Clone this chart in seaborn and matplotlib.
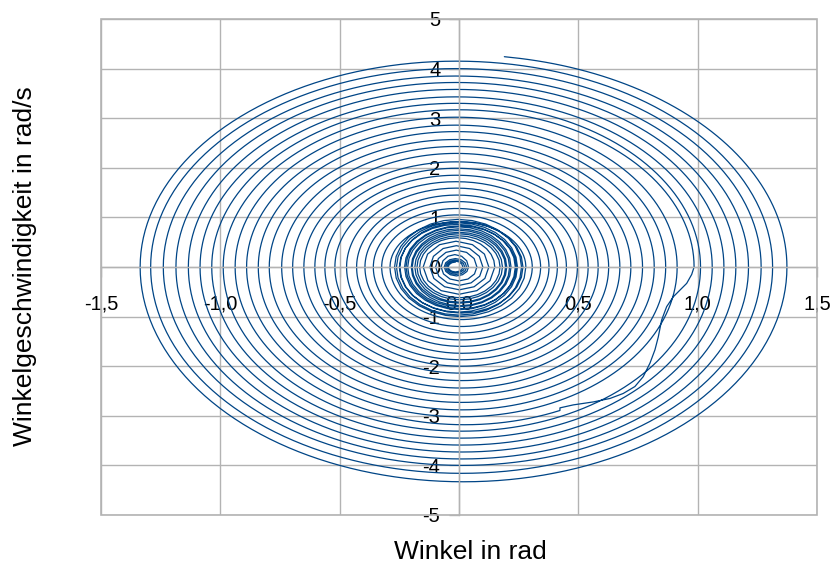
import numpy as np
import matplotlib
matplotlib.use("Agg")
import matplotlib.pyplot as plt
import seaborn as sns
import pandas as pd
from matplotlib.patches import Rectangle

# ---------------- data ----------------
# start of the recording
start_winkel = 0.19
start_omega = 4.24

# turning points of the angle (rad): maxima on the right, minima on the left (one per swing)
winkel_max = [1.374, 1.314, 1.266, 1.213, 1.160, 1.110, 1.061, 1.012, 0.985, 0.914,
              0.866, 0.818, 0.769, 0.720, 0.674, 0.627, 0.583, 0.541, 0.496, 0.450,
              0.412, 0.377, 0.342, 0.307,
              0.280, 0.262, 0.268, 0.245, 0.236, 0.240, 0.218, 0.212, 0.200, 0.195,
              0.182, 0.172,
              0.150, 0.125, 0.100, 0.075,
              0.040, 0.032, 0.024, 0.016]
winkel_min = [-1.336, -1.292, -1.239, -1.186, -1.134, -1.085, -1.036, -0.988, -0.938, -0.890,
              -0.841, -0.795, -0.743, -0.697, -0.650, -0.604, -0.562, -0.520, -0.471, -0.429,
              -0.394, -0.359, -0.324, -0.289,
              -0.270, -0.262, -0.248, -0.250, -0.228, -0.222, -0.215, -0.200, -0.196, -0.185,
              -0.176, -0.165,
              -0.150, -0.122, -0.098, -0.075,
              -0.062, -0.056, -0.050, -0.045]
# extreme angular velocities (rad/s): minima (bottom) and maxima (top)
omega_min = [-4.33, -4.16, -4.00, -3.87, -3.73, -3.59, -3.45, -3.31, -3.18, -3.02,
             -2.88, -2.73, -2.58, -2.44, -2.29, -2.14, -2.00, -1.87, -1.74, -1.60,
             -1.47, -1.33, -1.20, -1.06,
             -1.00, -0.97, -0.93, -0.91, -0.86, -0.84, -0.80, -0.78, -0.73, -0.71,
             -0.66, -0.62,
             -0.55, -0.46, -0.37, -0.28,
             -0.18, -0.15, -0.12, -0.10]
omega_max = [4.28,
             4.15, 4.00, 3.85, 3.72, 3.58, 3.43, 3.30, 3.17, 3.02, 2.86,
             2.73, 2.57, 2.43, 2.29, 2.12, 1.99, 1.85, 1.72, 1.59, 1.45,
             1.32, 1.18, 1.05, 0.91,
             0.96, 0.92, 0.89, 0.86, 0.83, 0.81, 0.77, 0.74, 0.70, 0.67,
             0.63, 0.59,
             0.52, 0.43, 0.34, 0.25,
             0.17, 0.14, 0.12, 0.10]

# disturbed swing (glitch) on the right side
stoer_umlauf = 8
stoer_winkel = [0.975, 0.954, 0.898, 0.870, 0.849, 0.835, 0.821, 0.800, 0.772,
                0.737, 0.688, 0.633, 0.563, 0.479, 0.423]
stoer_omega = [-0.15, -0.33, -0.60, -0.80, -1.07, -1.41, -1.67, -1.94, -2.21,
               -2.41, -2.55, -2.65, -2.72, -2.78, -2.84]

x_ticks = [-1.5, -1.0, -0.5, 0.0, 0.5, 1.0, 1.5]
x_tick_labels = ["-1,5", "-1,0", "-0,5", "0,0", "0,5", "1,0", "1,5"]
y_ticks = [-5, -4, -3, -2, -1, 0, 1, 2, 3, 4, 5]
y_tick_labels = ["-5", "-4", "-3", "-2", "-1", "0", "1", "2", "3", "4", "5"]

x_label = "Winkel in rad"
y_label = "Winkelgeschwindigkeit in rad/s"

# ---------------- build the trajectory through the turning points ----------------
def quarter(x_ext, cx, y_ext, n, to_y=True):
    t = np.linspace(0, np.pi / 2, n)
    xs = cx + (x_ext - cx) * np.cos(t)
    ys = y_ext * np.sin(t)
    if not to_y:
        xs, ys = xs[::-1], ys[::-1]
    return list(xs), list(ys)

X, Y = [], []
N = len(winkel_max)
xs, ys = quarter(winkel_max[0], 0.0, omega_max[0], 60, to_y=False)
for a, b in zip(xs, ys):
    if a >= start_winkel:
        X.append(a); Y.append(b)
X.insert(0, start_winkel); Y.insert(0, start_omega)

for k in range(N):
    r, l = winkel_max[k], winkel_min[k]
    n = 45 if r > 0.3 else (8 if r > 0.16 else 4)
    cb = (r + l) / 2
    xs, ys = quarter(r, cb, omega_min[k], n, to_y=True)
    if k == stoer_umlauf:
        X += stoer_winkel; Y += stoer_omega
        for a, b in zip(xs, ys):
            if a < stoer_winkel[-1]:
                X.append(a); Y.append(b)
    else:
        X += xs[1:]; Y += ys[1:]
    xs, ys = quarter(l, cb, omega_min[k], n, to_y=False)
    X += xs[1:]; Y += ys[1:]
    r_next = winkel_max[k + 1] if k + 1 < N else r
    ct = (l + r_next) / 2
    xs, ys = quarter(l, ct, omega_max[k + 1], n, to_y=True)
    X += xs[1:]; Y += ys[1:]
    if k + 1 < N:
        xs, ys = quarter(r_next, ct, omega_max[k + 1], n, to_y=False)
        X += xs[1:]; Y += ys[1:]

df = pd.DataFrame({"winkel": X, "omega": Y})

# ---------------- plot ----------------
sns.set_theme(style="white")
plt.rcParams["font.family"] = ["Liberation Sans", "DejaVu Sans"]

fig = plt.figure(figsize=(8.32, 5.69), dpi=100)
ax = fig.add_axes([101 / 832, 1 - 515 / 569, (817 - 101) / 832, (515 - 19) / 569])

sns.lineplot(data=df, x="winkel", y="omega", sort=False, estimator=None,
             color="#004586", linewidth=0.9, ax=ax)

ax.set_xlim(-1.5, 1.5)
ax.set_ylim(-5, 5)
ax.set_xticks(x_ticks)
ax.set_xticklabels(x_tick_labels)
ax.set_yticks(y_ticks)
ax.set_yticklabels(y_tick_labels)

grid_c = "#b3b3b3"
ax.set_axisbelow(True)
ax.grid(True, color=grid_c, linewidth=1.0)
for s in ["top", "right"]:
    ax.spines[s].set_visible(False)
ax.spines["bottom"].set_position("zero")
ax.spines["left"].set_position("zero")
for s in ["bottom", "left"]:
    ax.spines[s].set_color(grid_c)
    ax.spines[s].set_linewidth(1.0)
ax.add_patch(Rectangle((0, 0), 1, 1, transform=ax.transAxes, fill=False,
                       edgecolor=grid_c, linewidth=1.2, zorder=0.6, clip_on=False))

ax.tick_params(axis="x", direction="out", length=7.5, width=1, color=grid_c,
               pad=12, labelsize=14.5, labelcolor="black", bottom=True)
ax.tick_params(axis="y", direction="out", length=7.5, width=1, color=grid_c,
               pad=6, labelsize=14.5, labelcolor="black", left=True)
ax.set_xlabel("")
ax.set_ylabel("")

fig.text(470 / 832, 1 - 552 / 569, x_label, ha="center", va="center",
         fontsize=19, color="black")
fig.text(25 / 832, 1 - 266 / 569, y_label, ha="center", va="center",
         rotation=90, fontsize=19, color="black")

fig.savefig("out.png", dpi=100)
